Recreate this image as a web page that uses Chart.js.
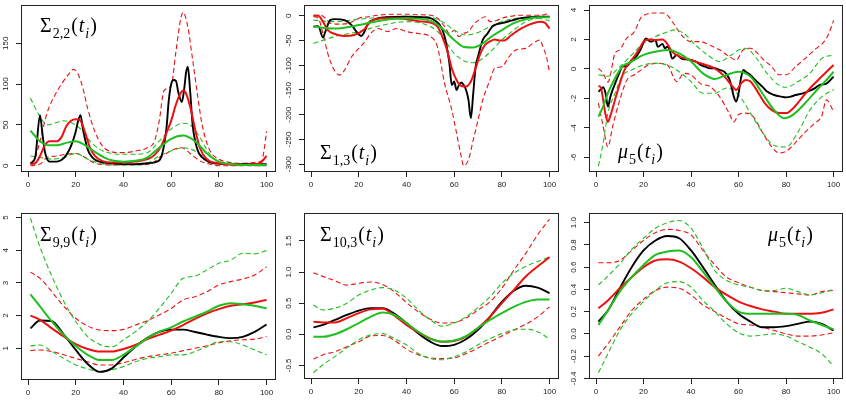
<!DOCTYPE html>
<html>
<head>
<meta charset="utf-8">
<script src="https://cdn.jsdelivr.net/npm/chart.js@4/dist/chart.umd.min.js"></script>
<style>
html, body { margin: 0; padding: 0; background: #fff; }
#wrap { position: relative; width: 846px; height: 406px; overflow: hidden; }
#wrap canvas { position: absolute; left: 0; top: 0; }
</style>
</head>
<body>
<div id="wrap">
<canvas id="c1" width="846" height="406"></canvas>
<canvas id="c2" width="846" height="406"></canvas>
<canvas id="c3" width="846" height="406"></canvas>
<canvas id="c4" width="846" height="406"></canvas>
<canvas id="c5" width="846" height="406"></canvas>
<canvas id="c6" width="846" height="406"></canvas>
</div>
<script>
// tick labels
var xTicks = [0, 20, 40, 60, 80, 100];
var p1YTicks = [0, 50, 100, 150];
var p2YTicks = [0, -50, -100, -150, -200, -250, -300];
var p3YTicks = [4, 2, 0, -2, -4, -6];
var p4YTicks = [1, 2, 3, 4, 5];
var p5YTicks = [-0.5, 0, 0.5, 1, 1.5];
var p6YTicks = [-0.4, -0.2, 0, 0.2, 0.4, 0.6, 0.8, 1.0];

// panel 1 : Sigma_{2,2}  ([x, y] pairs)
var p1Black = [[1,3],[3,10],[5,62],[6,40],[7,18],[9,5],[12,5],[14,7],[16,13],[18,24],[20,42],[21,55],[22,62],[23,45],[25,20],[27,10],[30,5],[35,3],[40,2],[45,2],[50,3],[54,5],[56,12],[58,45],[59,80],[60,100],[61,105],[62,104],[63,90],[64.5,78],[65.5,95],[66.3,115],[67,121],[68,90],[69,50],[71,20],[74,8],[78,3],[85,2],[100,2]];
var p1Red = [[1,2],[3,3],[5,12],[7,25],[9,30],[12,30],[14,35],[16,48],[18,55],[20,57],[22,55],[24,40],[26,22],[28,12],[31,6],[35,4],[40,4],[45,5],[50,8],[53,13],[56,25],[58,40],[60,55],[62,75],[64,89],[65,92],[66,90],[68,72],[70,45],[72,22],[75,8],[80,3],[90,1],[96,2],[98,5],[100,12]];
var p1RedHi = [[1,2],[3,10],[5,30],[8,65],[11,85],[14,100],[17,112],[19,118],[21,112],[23,95],[25,70],[28,42],[31,25],[35,17],[40,16],[45,18],[50,22],[53,30],[55,55],[57,92],[60,98],[62,140],[64,180],[65,188],[67,170],[69,130],[71,88],[73,50],[76,20],[80,8],[85,4],[90,3],[95,4],[98,6],[99,20],[100,42]];
var p1RedLo = [[1,0],[5,2],[8,10],[12,12],[16,14],[20,15],[24,10],[28,3],[35,1],[45,1],[52,3],[55,10],[58,15],[61,20],[64,22],[66,20],[68,15],[72,6],[76,2],[80,0],[100,0]];
var p1Green = [[1,43],[5,30],[9,25],[12,25],[16,28],[20,30],[24,25],[28,17],[32,10],[36,6],[40,5],[45,6],[50,10],[55,22],[60,33],[65,37],[70,30],[75,15],[80,5],[85,2],[90,1],[100,1]];
var p1GreenHi = [[1,83],[5,60],[8,50],[12,53],[15,55],[18,53],[22,45],[26,30],[30,20],[35,15],[40,14],[45,14],[50,16],[55,30],[60,45],[65,52],[68,50],[72,35],[76,15],[80,5],[85,2],[100,1]];
var p1GreenLo = [[1,12],[5,10],[10,8],[15,10],[20,15],[25,8],[30,3],[35,1],[45,1],[50,3],[55,12],[60,18],[65,22],[70,18],[75,8],[80,2],[100,0]];

// panel 2 : Sigma_{1,3}
var p2Black = [[1,-22],[3,-21],[5,-44],[6,-32],[8,-9],[10,-7],[14,-9],[17,-19],[19,-32],[21,-41],[22,-36],[24,-15],[27,-7],[32,-3],[40,-2],[45,-3],[50,-5],[52,-10],[54,-19],[56,-42],[58,-96],[59,-140],[60,-133],[61,-150],[62,-140],[63,-135],[64,-140],[65,-150],[66,-170],[67,-207],[68,-157],[69,-103],[70,-83],[72,-49],[74,-36],[76,-22],[78,-17],[80,-15],[84,-10],[88,-5],[92,-3],[96,-2],[100,-2]];
var p2Red = [[1,0],[3,0],[5,-12],[7,-29],[10,-37],[14,-41],[18,-39],[22,-29],[25,-12],[30,-5],[35,-5],[40,-7],[45,-11],[50,-14],[53,-22],[55,-42],[57,-69],[59,-106],[61,-130],[63,-142],[65,-143],[67,-133],[69,-106],[71,-76],[73,-59],[75,-52],[77,-48],[79,-50],[81,-50],[84,-39],[88,-26],[92,-17],[96,-12],[98,-14],[100,-26]];
var p2RedHi = [[1,1],[4,1],[6,-5],[8,-15],[12,-17],[16,-15],[20,-5],[24,-2],[28,1],[34,3],[40,3],[45,2],[50,1],[53,-5],[56,-22],[58,-36],[60,-30],[62,-42],[64,-36],[66,-32],[68,-19],[70,-10],[73,-2],[75,-12],[78,-9],[80,-5],[84,-1],[88,1],[92,1],[96,1],[100,5]];
var p2RedLo = [[1,-2],[3,-5],[5,-36],[7,-76],[9,-103],[11,-118],[12,-120],[14,-110],[17,-83],[20,-66],[22,-56],[25,-36],[28,-26],[32,-32],[36,-26],[40,-32],[45,-36],[50,-42],[53,-63],[56,-137],[59,-190],[61,-237],[63,-285],[64,-303],[66,-291],[68,-251],[70,-211],[72,-170],[75,-130],[77,-106],[80,-103],[83,-83],[86,-69],[90,-66],[93,-56],[96,-49],[97,-60],[99,-89],[100,-116]];
var p2Green = [[1,-22],[10,-26],[20,-19],[30,-9],[40,-5],[50,-10],[55,-26],[60,-49],[64,-63],[68,-64],[72,-56],[76,-41],[80,-29],[85,-15],[90,-7],[95,-3],[100,-3]];
var p2GreenHi = [[1,-9],[10,-12],[20,-7],[30,-3],[40,-1],[50,-3],[55,-12],[60,-29],[65,-39],[70,-34],[75,-22],[80,-12],[85,-6],[90,-4],[95,-5],[100,-10]];
var p2GreenLo = [[1,-56],[10,-42],[20,-32],[30,-19],[40,-12],[50,-22],[55,-42],[60,-76],[65,-93],[68,-95],[72,-86],[76,-69],[80,-49],[85,-29],[90,-12],[95,-5],[100,-2]];

// panel 3 : mu_5
var p3Black = [[1,-1.54],[2,-1.4],[3,-1.25],[4,-1.65],[5,-2.56],[6,-1.9],[8,-1.0],[10,-0.2],[11,0.15],[13,0.2],[15,0.6],[17,0.85],[19,1.4],[21,2.07],[23,1.85],[25,1.96],[26,1.5],[28,1.7],[29,1.4],[30,1.5],[31,1.3],[32,0.7],[34,0.95],[36,0.7],[38,0.65],[40,0.6],[42,0.5],[44,0.27],[46,0.15],[48,0.04],[50,0.04],[52,-0.07],[54,-0.19],[56,-0.64],[57,-1.2],[58,-1.88],[59,-2.22],[60,-1.66],[61,-0.64],[62,-0.07],[63,-0.19],[65,-0.41],[67,-0.75],[70,-1.2],[72,-1.54],[75,-1.77],[78,-1.88],[80,-1.93],[82,-1.88],[84,-1.77],[87,-1.66],[90,-1.48],[92,-1.32],[94,-1.1],[97,-1.0],[100,-0.52]];
var p3Red = [[1,-1.16],[2,-1.25],[3,-2.1],[4,-3.1],[5,-3.6],[6,-3.2],[8,-2.1],[10,-1.0],[12,-0.07],[15,0.6],[18,1.3],[20,1.85],[22,2.0],[25,1.96],[28,2.0],[30,1.7],[32,1.17],[35,0.85],[40,0.6],[45,0.33],[50,0.04],[54,-0.5],[57,-1.1],[59,-1.43],[61,-1.0],[63,-0.75],[65,-0.86],[68,-1.54],[71,-2.33],[74,-2.8],[77,-3.0],[80,-3.0],[83,-2.67],[86,-2.1],[90,-1.32],[95,-0.52],[100,0.27]];
var p3RedHi = [[1,0.04],[3,-0.3],[5,-0.9],[8,1.06],[10,1.3],[13,2.1],[16,2.5],[19,3.5],[21,3.7],[24,3.8],[28,3.8],[30,3.65],[33,3.0],[36,2.3],[40,1.85],[44,1.85],[48,1.6],[52,1.3],[56,0.85],[59,0.6],[62,1.3],[65,1.4],[68,1.06],[70,0.7],[74,0.15],[77,-0.4],[80,-0.4],[84,0.15],[88,0.7],[92,1.3],[96,1.85],[98,2.4],[100,3.3]];
var p3RedLo = [[1,-2.33],[3,-3.9],[5,-5.3],[7,-3.9],[10,-2.1],[13,-0.75],[16,-0.41],[19,-0.07],[22,0.27],[26,0.38],[30,0.27],[34,-0.86],[37,-0.3],[40,-0.41],[44,-1.0],[48,-1.2],[52,-1.88],[56,-3.0],[58,-3.6],[60,-3.1],[63,-3.0],[66,-3.2],[70,-4.3],[74,-5.3],[77,-5.7],[80,-5.6],[84,-5.0],[88,-4.3],[92,-3.7],[95,-3.2],[97,-2.1],[100,-2.9]];
var p3Green = [[1,-3.24],[3,-2.56],[5,-1.65],[8,-0.64],[11,0.15],[15,0.5],[20,0.95],[25,1.17],[30,1.28],[35,1.06],[40,0.5],[45,-0.3],[50,-0.68],[55,-0.4],[60,-0.19],[65,-0.52],[70,-1.65],[75,-2.8],[79,-3.35],[83,-3.1],[88,-2.33],[93,-1.43],[97,-0.75],[100,-0.19]];
var p3GreenHi = [[1,-0.4],[5,-0.5],[10,0.15],[15,0.95],[20,1.74],[25,2.2],[30,2.5],[33,2.65],[37,2.4],[42,1.6],[47,0.95],[52,0.5],[57,0.95],[60,1.28],[63,1.4],[67,0.83],[72,-0.3],[77,-1.1],[80,-1.25],[85,-0.86],[90,-0.3],[95,0.7],[100,0.95]];
var p3GreenLo = [[1,-6.6],[3,-5.05],[5,-3.0],[8,-1.65],[11,-0.5],[15,-0.07],[20,0.27],[25,0.38],[30,0.27],[35,-0.19],[40,-0.86],[45,-1.65],[50,-1.65],[55,-1.3],[60,-1.77],[65,-3.0],[70,-4.3],[75,-5.2],[80,-5.3],[85,-4.3],[90,-2.8],[95,-1.9],[100,-1.4]];

// bottom row : shared x grid
var gridB = [1, 5, 10, 15, 20, 25, 30, 35, 40, 45, 50, 55, 60, 65, 70, 75, 80, 85, 90, 95, 100];

// panel 4 : Sigma_{9,9}
var p4Black = [1.61,1.85,1.83,1.42,0.95,0.52,0.28,0.38,0.72,1.05,1.32,1.5,1.57,1.57,1.5,1.42,1.35,1.31,1.35,1.5,1.73];
var p4Red = [2.0,1.87,1.61,1.36,1.13,0.98,0.9,0.9,0.98,1.1,1.28,1.41,1.54,1.71,1.9,2.07,2.2,2.3,2.35,2.4,2.48];
var p4RedHi = [3.33,3.14,2.73,2.28,1.92,1.68,1.56,1.54,1.58,1.71,1.85,2.02,2.22,2.48,2.58,2.73,2.94,3.04,3.12,3.24,3.5];
var p4RedLo = [0.93,0.95,0.9,0.8,0.69,0.59,0.49,0.49,0.56,0.66,0.74,0.8,0.85,0.93,1.0,1.08,1.17,1.23,1.26,1.28,1.36];
var p4Green = [2.65,2.28,1.82,1.41,1.07,0.8,0.64,0.64,0.8,1.05,1.31,1.51,1.64,1.82,1.97,2.12,2.3,2.38,2.35,2.3,2.22];
var p4GreenHi = [4.98,4.1,3.2,2.43,1.82,1.36,1.12,1.04,1.26,1.51,1.82,2.22,2.68,3.14,3.21,3.4,3.6,3.7,3.91,3.89,3.99];
var p4GreenLo = [1.07,1.1,0.9,0.69,0.49,0.37,0.29,0.34,0.44,0.59,0.69,0.74,0.8,0.8,0.9,1.05,1.2,1.2,1.1,0.95,0.8];

// panel 5 : Sigma_{10,3}
var p5Black = [0.11,0.15,0.23,0.31,0.38,0.42,0.42,0.33,0.18,0.01,-0.12,-0.19,-0.17,-0.08,0.07,0.28,0.52,0.7,0.78,0.75,0.66];
var p5Red = [0.2,0.19,0.19,0.26,0.34,0.4,0.41,0.3,0.15,0.03,-0.07,-0.12,-0.11,-0.04,0.1,0.28,0.5,0.71,0.93,1.09,1.24];
var p5RedHi = [0.99,0.93,0.86,0.79,0.82,0.84,0.8,0.68,0.51,0.36,0.24,0.18,0.19,0.26,0.39,0.52,0.74,1.03,1.3,1.6,1.85];
var p5RedLo = [-0.4,-0.33,-0.28,-0.2,-0.12,-0.03,-0.02,-0.1,-0.24,-0.33,-0.38,-0.39,-0.38,-0.31,-0.22,-0.12,-0.03,0.07,0.16,0.28,0.44];
var p5Green = [-0.04,-0.04,0.0,0.08,0.18,0.28,0.35,0.31,0.18,0.04,-0.07,-0.12,-0.1,-0.03,0.1,0.23,0.34,0.44,0.52,0.56,0.56];
var p5GreenHi = [0.47,0.39,0.42,0.5,0.63,0.71,0.75,0.71,0.58,0.39,0.23,0.13,0.18,0.28,0.43,0.6,0.82,0.98,1.09,1.17,1.24];
var p5GreenLo = [-0.62,-0.49,-0.36,-0.22,-0.09,-0.01,0.01,-0.07,-0.17,-0.31,-0.39,-0.41,-0.36,-0.28,-0.17,-0.07,0.01,0.07,0.08,0.04,-0.08];

// panel 6 : mu_5
var p6Black = [0.11,0.21,0.41,0.6,0.75,0.84,0.88,0.86,0.75,0.6,0.44,0.29,0.18,0.11,0.06,0.06,0.07,0.09,0.11,0.09,0.03];
var p6Red = [0.23,0.3,0.41,0.51,0.6,0.66,0.67,0.65,0.59,0.51,0.42,0.35,0.29,0.25,0.22,0.2,0.18,0.18,0.18,0.19,0.22];
var p6RedHi = [0.64,0.64,0.66,0.75,0.84,0.91,0.94,0.93,0.89,0.75,0.62,0.51,0.46,0.42,0.39,0.38,0.37,0.36,0.35,0.38,0.39];
var p6RedLo = [-0.2,-0.09,0.06,0.21,0.31,0.39,0.42,0.41,0.35,0.26,0.2,0.14,0.09,0.08,0.06,0.03,0.0,-0.02,-0.02,-0.01,0.01];
var p6Green = [0.08,0.21,0.38,0.51,0.62,0.71,0.74,0.75,0.69,0.56,0.42,0.29,0.2,0.18,0.18,0.18,0.18,0.17,0.12,0.08,0.04];
var p6GreenHi = [0.44,0.52,0.63,0.76,0.86,0.95,1.0,1.02,0.95,0.77,0.57,0.48,0.44,0.42,0.39,0.39,0.41,0.38,0.35,0.37,0.4];
var p6GreenLo = [-0.35,-0.18,0.03,0.18,0.29,0.39,0.46,0.47,0.42,0.3,0.2,0.09,0.01,-0.02,-0.01,0.0,-0.02,-0.07,-0.12,-0.18,-0.29];

var RED = '#ee1111';
var GREEN = '#1fbf1f';
var INK = '#222';

function pairs(p) { return p.map(function (d) { return { x: d[0], y: d[1] }; }); }
function onGrid(ys) { return ys.map(function (y, i) { return { x: gridB[i], y: y }; }); }

function line(data, color, w, dash) {
  return {
    data: data, borderColor: color, borderWidth: w, borderDash: dash || [],
    pointRadius: 0, fill: false, cubicInterpolationMode: 'monotone'
  };
}

// draw a math label made of pieces (normal / italic / subscript)
function drawMath(ctx, x, y, parts, size) {
  var cx = x;
  ctx.fillStyle = '#000';
  ctx.textBaseline = 'alphabetic';
  ctx.textAlign = 'left';
  parts.forEach(function (p) {
    var fs = p.sub ? size * 0.7 : size;
    ctx.font = (p.it ? 'italic ' : '') + fs + 'px "Liberation Serif"';
    ctx.fillText(p.t, cx, y + (p.sub ? size * 0.28 : 0));
    cx += ctx.measureText(p.t).width + (p.gap || 1);
  });
}

var boxPlugin = {
  id: 'rbox',
  afterDraw: function (chart, args, opts) {
    var ctx = chart.ctx, a = chart.chartArea, ys = chart.scales.y;
    ctx.save();
    ctx.strokeStyle = INK;
    ctx.lineWidth = 1;
    ctx.strokeRect(Math.round(a.left) + 0.5, Math.round(a.top) + 0.5,
      Math.round(a.right - a.left) - 1, Math.round(a.bottom - a.top) - 1);
    // rotated y tick labels, R style
    ctx.fillStyle = INK;
    ctx.font = '8px "Liberation Sans"';
    ctx.textAlign = 'center';
    ctx.textBaseline = 'middle';
    opts.yTicks.forEach(function (v) {
      var py = ys.getPixelForValue(v);
      ctx.save();
      ctx.translate(a.left - 15, py);
      ctx.rotate(-Math.PI / 2);
      ctx.fillText(opts.yFmt(v), 0, 0);
      ctx.restore();
    });
    drawMath(ctx, opts.labX, opts.labY, opts.lab, 20);
    ctx.restore();
  }
};

var XH = 20, YW = 20;

function makePanel(id, box, yMin, yMax, yTicks, yFmt, sets, lab, labX, labY) {
  new Chart(document.getElementById(id), {
    type: 'line',
    data: {
      datasets: [
        line(sets.green, GREEN, 2),
        line(sets.red, RED, 2),
        line(sets.black, '#000', 1.9),
        line(sets.greenHi, GREEN, 1.1, [5, 3]),
        line(sets.greenLo, GREEN, 1.1, [5, 3]),
        line(sets.redHi, RED, 1.1, [5, 3]),
        line(sets.redLo, RED, 1.1, [5, 3])
      ]
    },
    options: {
      responsive: false,
      animation: false,
      devicePixelRatio: 1,
      layout: { padding: { left: box.l - YW, top: box.t, right: 846 - box.r, bottom: 406 - box.b - XH } },
      plugins: {
        legend: { display: false },
        tooltip: { enabled: false },
        rbox: { yTicks: yTicks, yFmt: yFmt, lab: lab, labX: labX, labY: labY }
      },
      scales: {
        x: {
          type: 'linear', min: -2.96, max: 103.96,
          afterBuildTicks: function (s) { s.ticks = xTicks.map(function (v) { return { value: v }; }); },
          afterFit: function (s) { s.height = XH; },
          border: { display: false },
          grid: { drawOnChartArea: false, drawTicks: true, tickLength: 5, color: INK },
          ticks: { font: { size: 8, family: 'Liberation Sans' }, color: INK, padding: 3, maxRotation: 0, autoSkip: false }
        },
        y: {
          type: 'linear', min: yMin, max: yMax,
          afterBuildTicks: function (s) { s.ticks = yTicks.map(function (v) { return { value: v }; }); },
          afterFit: function (s) { s.width = YW; },
          border: { display: false },
          grid: { drawOnChartArea: false, drawTicks: true, tickLength: 5, color: INK },
          ticks: { display: false }
        }
      }
    },
    plugins: [boxPlugin]
  });
}

function fmtInt(v) { return String(v); }
function fmt1(v) { return v.toFixed(1); }

var SIG = function (s) { return [{ t: 'Σ' }, { t: s, sub: 1 }, { t: '(' }, { t: 't', it: 1 }, { t: 'i', it: 1, sub: 1 }, { t: ')' }]; };
var MU = [{ t: 'μ', it: 1 }, { t: '5', sub: 1 }, { t: '(' }, { t: 't', it: 1 }, { t: 'i', it: 1, sub: 1 }, { t: ')' }];

makePanel('c1', { l: 21, t: 5, r: 276, b: 172 }, -7.7, 196.9, p1YTicks, fmtInt,
  { black: pairs(p1Black), red: pairs(p1Red), redHi: pairs(p1RedHi), redLo: pairs(p1RedLo),
    green: pairs(p1Green), greenHi: pairs(p1GreenHi), greenLo: pairs(p1GreenLo) },
  SIG('2,2'), 40, 32);
makePanel('c2', { l: 304, t: 5, r: 559, b: 172 }, -315.6, 21.6, p2YTicks, fmtInt,
  { black: pairs(p2Black), red: pairs(p2Red), redHi: pairs(p2RedHi), redLo: pairs(p2RedLo),
    green: pairs(p2Green), greenHi: pairs(p2GreenHi), greenLo: pairs(p2GreenLo) },
  SIG('1,3'), 320, 159);
makePanel('c3', { l: 589, t: 5, r: 843, b: 172 }, -7.0, 4.34, p3YTicks, fmtInt,
  { black: pairs(p3Black), red: pairs(p3Red), redHi: pairs(p3RedHi), redLo: pairs(p3RedLo),
    green: pairs(p3Green), greenHi: pairs(p3GreenHi), greenLo: pairs(p3GreenLo) },
  MU, 618, 158);
makePanel('c4', { l: 21, t: 213, r: 276, b: 380 }, 0.03, 5.14, p4YTicks, fmtInt,
  { black: onGrid(p4Black), red: onGrid(p4Red), redHi: onGrid(p4RedHi), redLo: onGrid(p4RedLo),
    green: onGrid(p4Green), greenHi: onGrid(p4GreenHi), greenLo: onGrid(p4GreenLo) },
  SIG('9,9'), 40, 241);
makePanel('c5', { l: 304, t: 213, r: 559, b: 379 }, -0.72, 1.95, p5YTicks, fmt1,
  { black: onGrid(p5Black), red: onGrid(p5Red), redHi: onGrid(p5RedHi), redLo: onGrid(p5RedLo),
    green: onGrid(p5Green), greenHi: onGrid(p5GreenHi), greenLo: onGrid(p5GreenLo) },
  SIG('10,3'), 320, 241);
makePanel('c6', { l: 589, t: 213, r: 843, b: 379 }, -0.406, 1.087, p6YTicks, fmt1,
  { black: onGrid(p6Black), red: onGrid(p6Red), redHi: onGrid(p6RedHi), redLo: onGrid(p6RedLo),
    green: onGrid(p6Green), greenHi: onGrid(p6GreenHi), greenLo: onGrid(p6GreenLo) },
  MU, 768, 241);
</script>
</body>
</html>
